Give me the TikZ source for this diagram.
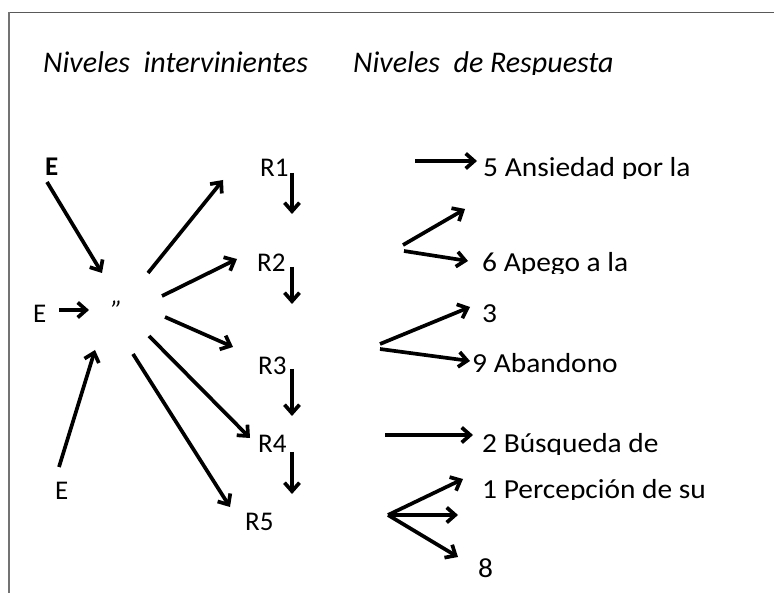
\documentclass[tikz,border=0pt]{standalone}
\usepackage{fontspec}
\usepackage{graphicx}
\setmainfont{Carlito}
\usetikzlibrary{arrows.meta}
\tikzset{
  arr/.style={line width=3.7pt, -{Straight Barb[length=8.5pt,width=15pt]}},
  txt/.style={inner sep=0pt, anchor=base west, font=\fontsize{27.5}{33}\selectfont},
  lbl/.style={inner sep=0pt, anchor=base west, font=\fontsize{27}{32}\selectfont},
  hdr/.style={inner sep=0pt, anchor=base west, font=\fontsize{30}{36}\selectfont\itshape},
  frameline/.style={draw=black!65, line width=1.6pt},
  frameside/.style={draw=black!55, line width=1.1pt},
}
\newcommand\wide[1]{\scalebox{1.07}[1]{#1}}
\newcommand\cliptxt[4]{%
  \begin{scope}
    \clip ({#2-6},{#3-45}) rectangle ({#2+330},{#3+1.2});
    \node[txt] (#1) at (#2,#3) {\wide{#4}};
  \end{scope}}
\begin{document}
\begin{tikzpicture}[x=1pt,y=-1pt]
\useasboundingbox (0,0) rectangle (774,593);
\fill[white] (0,0) rectangle (774,593);
% frame
\draw[frameline] (9,12.5) -- (774,12.5);
\draw[frameside] (9,12.5) -- (9,593);
% headers
\begin{scope}
  \clip (30,40) rectangle (774,74.3);
  \node[hdr] (h1) at (43,73) {Niveles\ \ intervinientes};
  \node[hdr] (h2) at (353,73) {Niveles\ \ de Respuesta};
\end{scope}
% left labels
\node[lbl] (E1) at (45,176) {\textbf{E}};
\node[lbl] (E2) at (33,323) {E};
\node[lbl] (E3) at (55,499) {E};
\node[lbl] (q) at (111,320) {\textit{"}};
% R labels
\node[lbl] (R1) at (260,177) {R1};
\node[lbl] (R2) at (257,272) {R2};
\node[lbl] (R3) at (258,375) {R3};
\node[lbl] (R4) at (258,453) {R4};
\node[lbl] (R5) at (245,530) {R5};
% right texts
\cliptxt{T5}{483}{177}{5 Ansiedad por la}
\cliptxt{T6}{482}{272}{6 Apego a la}
\node[txt] (T3) at (482,323) {\wide{3}};
\node[txt] (T9) at (472,373) {\wide{9 Abandono}};
\cliptxt{T2}{482}{453}{2 Búsqueda de}
\cliptxt{T1}{482}{498}{1 Percepción de su}
\node[txt] (T8) at (478,577) {\wide{8}};
% coordinates of connector ends
\coordinate (a1s) at (47,182);  \coordinate (a1e) at (102,273);
\coordinate (a2s) at (59,310);  \coordinate (a2e) at (89,310);
\coordinate (a3s) at (59,467);  \coordinate (a3e) at (95,350);
\coordinate (f1s) at (148,273); \coordinate (f1e) at (223,180);
\coordinate (f2s) at (162,296); \coordinate (f2e) at (237,259);
\coordinate (f3s) at (165,317); \coordinate (f3e) at (233,347);
\coordinate (f4s) at (149,336); \coordinate (f4e) at (250,438);
\coordinate (f5s) at (133,354); \coordinate (f5e) at (230,507);
\coordinate (v1s) at (292,173); \coordinate (v1e) at (292,214);
\coordinate (v2s) at (292,267); \coordinate (v2e) at (292,304);
\coordinate (v3s) at (292,369); \coordinate (v3e) at (292,416);
\coordinate (v4s) at (292,452); \coordinate (v4e) at (292,494);
\coordinate (r1s) at (415,161); \coordinate (r1e) at (477,161);
\coordinate (r2a) at (403,245); \coordinate (r2ae) at (465,209);
\coordinate (r2b) at (404,251); \coordinate (r2be) at (468,261);
\coordinate (r3a) at (380,344); \coordinate (r3ae) at (470,307);
\coordinate (r3b) at (380,349); \coordinate (r3be) at (470,361);
\coordinate (r4s) at (385,435); \coordinate (r4e) at (473,435);
\coordinate (r5s) at (388,515);
\coordinate (r5a) at (463,479); \coordinate (r5b) at (458,515); \coordinate (r5c) at (458,557);
% connectors
\draw[arr] (a1s) -- (a1e);
\draw[arr] (a2s) -- (a2e);
\draw[arr] (a3s) -- (a3e);
\draw[arr] (f1s) -- (f1e);
\draw[arr] (f2s) -- (f2e);
\draw[arr] (f3s) -- (f3e);
\draw[arr] (f4s) -- (f4e);
\draw[arr] (f5s) -- (f5e);
\draw[arr] (v1s) -- (v1e);
\draw[arr] (v2s) -- (v2e);
\draw[arr] (v3s) -- (v3e);
\draw[arr] (v4s) -- (v4e);
\draw[arr] (r1s) -- (r1e);
\draw[arr] (r2a) -- (r2ae);
\draw[arr] (r2b) -- (r2be);
\draw[arr] (r3a) -- (r3ae);
\draw[arr] (r3b) -- (r3be);
\draw[arr] (r4s) -- (r4e);
\draw[arr] (r5s) -- (r5a);
\draw[arr] (r5s) -- (r5b);
\draw[arr] (r5s) -- (r5c);
\end{tikzpicture}
\end{document}
